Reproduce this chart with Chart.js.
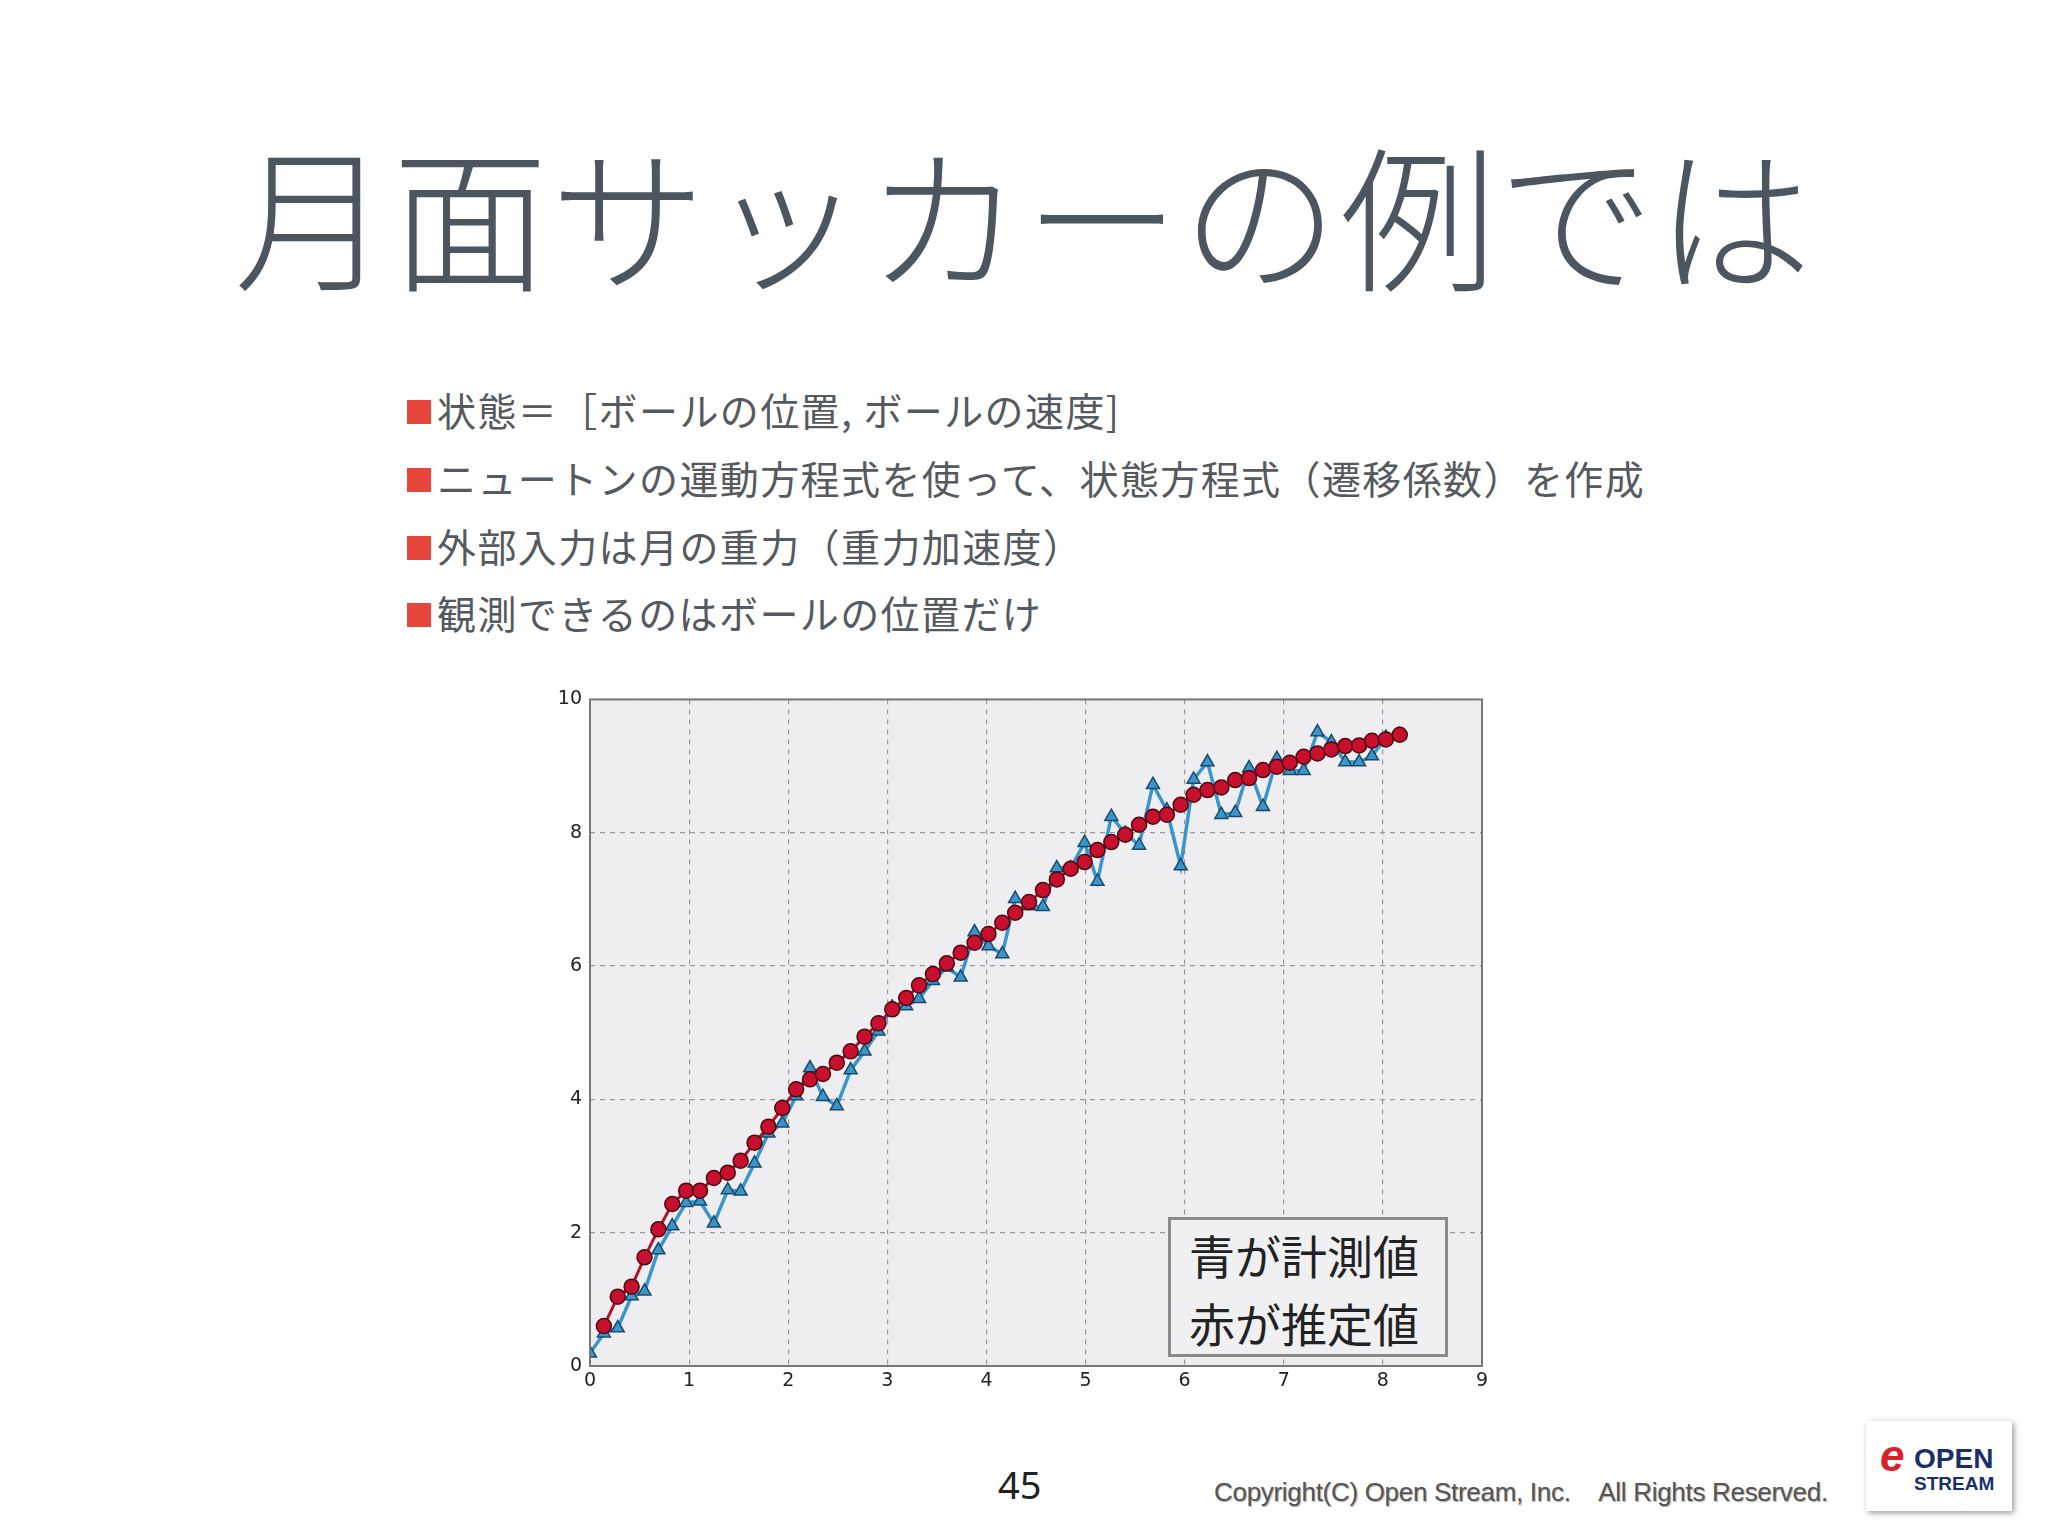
<!DOCTYPE html>
<html><head><meta charset="utf-8">
<script src="https://cdn.jsdelivr.net/npm/chart.js@4/dist/chart.umd.min.js"></script>
<style>
body{margin:0;width:2048px;height:1536px;background:#fff;position:relative;overflow:hidden;font-family:"Noto Sans CJK JP","Noto Sans",sans-serif;}
#title{position:absolute;left:0;width:2048px;top:118px;text-align:center;font-size:156px;color:#4b5661;font-weight:300;letter-spacing:2px;line-height:1.2}
.b{position:absolute;left:407px;font-size:39px;color:#555a60;line-height:1;letter-spacing:1.4px}
.b span{display:inline-block;width:24px;height:24px;background:#e8463a;margin-right:6px;vertical-align:2px}
#wrap{position:absolute;left:540px;top:680px;width:960px;height:720px}
#leg{position:absolute;left:1168px;top:1217px;width:280px;height:140px;border:3px solid #8a8a8a;background:#f0f0f2;font-size:46px;color:#222;line-height:68px;padding-left:18px;box-sizing:border-box;padding-top:0px}
#pg{position:absolute;left:998px;top:1458px;font-size:38px;color:#222;font-family:"Noto Sans",sans-serif}
#cp{position:absolute;left:1214px;top:1477px;font-size:26px;color:#555;font-family:"Liberation Sans",sans-serif;text-shadow:1px 1px 1px #aaa;letter-spacing:-0.3px}
#logo{position:absolute;left:1866px;top:1421px;width:146px;height:90px;background:#fff;box-shadow:2px 2px 6px #999;font-family:"Liberation Sans",sans-serif}
</style></head><body>
<div id="title">月面サッカーの例では</div>
<div class="b" style="top:390px"><span></span>状態＝［ボールの位置, ボールの速度]</div>
<div class="b" style="top:458px"><span></span>ニュートンの運動方程式を使って、状態方程式（遷移係数）を作成</div>
<div class="b" style="top:526px"><span></span>外部入力は月の重力（重力加速度）</div>
<div class="b" style="top:593px"><span></span>観測できるのはボールの位置だけ</div>
<div id="wrap"><canvas id="c"></canvas></div>
<div id="leg">青が計測値<br>赤が推定値</div>
<div id="pg">45</div>
<div id="cp">Copyright(C) Open Stream, Inc.&nbsp;&nbsp;&nbsp;&nbsp;All Rights Reserved.</div>
<div id="logo"><div style="position:absolute;left:14px;top:10px;font-size:44px;color:#d8222a;font-style:italic;font-weight:bold">e</div><div style="position:absolute;left:48px;top:22px;font-size:28px;color:#1a2f6a;font-weight:bold">OPEN</div><div style="position:absolute;left:48px;top:52px;font-size:19px;color:#1a2f6a;font-weight:bold">STREAM</div></div>
<script>
const xs=[0,0.14,0.28,0.42,0.55,0.69,0.83,0.97,1.11,1.25,1.39,1.52,1.66,1.80,1.94,2.08,2.22,2.35,2.49,2.63,2.77,2.91,3.05,3.19,3.32,3.46,3.60,3.74,3.88,4.02,4.16,4.29,4.43,4.57,4.71,4.85,4.99,5.12,5.26,5.40,5.54,5.68,5.82,5.96,6.09,6.23,6.37,6.51,6.65,6.79,6.93,7.06,7.20,7.34,7.48,7.62,7.76,7.89,8.03,8.17];
const measured=[0.19,0.49,0.57,1.05,1.12,1.74,2.10,2.45,2.47,2.14,2.64,2.62,3.04,3.49,3.64,4.05,4.47,4.04,3.90,4.44,4.72,5.02,5.38,5.40,5.51,5.78,5.98,5.83,6.51,6.30,6.18,7.01,6.90,6.89,7.47,7.47,7.85,7.27,8.24,7.99,7.81,8.72,8.34,7.50,8.80,9.06,8.27,8.30,8.97,8.39,9.11,8.93,8.93,9.51,9.36,9.06,9.06,9.15,9.43,9.47];
const estimated=[null,0.60,1.04,1.19,1.63,2.05,2.43,2.63,2.63,2.82,2.90,3.08,3.35,3.59,3.87,4.15,4.30,4.38,4.55,4.72,4.94,5.14,5.35,5.52,5.71,5.88,6.04,6.20,6.35,6.48,6.65,6.80,6.96,7.14,7.30,7.46,7.56,7.74,7.86,7.97,8.12,8.24,8.27,8.42,8.57,8.64,8.68,8.79,8.82,8.94,8.99,9.05,9.14,9.19,9.25,9.30,9.31,9.38,9.40,9.47];
const xTicks=[0,1,2,3,4,5,6,7,8,9];
const yTicks=[0,2,4,6,8,10];
const pts=a=>xs.map((x,i)=>({x:x,y:a[i]}));
const bg={id:'bg',beforeDraw(c){const a=c.chartArea,g=c.ctx;g.save();g.fillStyle='#eeeef0';g.fillRect(a.left,a.top,a.width,a.height);g.restore();},
afterDraw(c){const a=c.chartArea,g=c.ctx;g.save();g.strokeStyle='#777';g.lineWidth=2;g.strokeRect(a.left,a.top,a.width,a.height);g.restore();}};
new Chart(document.getElementById('c'),{type:'scatter',
data:{datasets:[
{label:'推定値',data:pts(estimated),showLine:true,borderColor:'#b5132b',borderWidth:3,pointStyle:'circle',pointRadius:7.5,pointBackgroundColor:'#c8102e',pointBorderColor:'#4a0a10',pointBorderWidth:1.5,order:0,spanGaps:true},
{label:'計測値',data:pts(measured),showLine:true,borderColor:'#3a95cc',borderWidth:3.5,pointStyle:'triangle',pointRadius:7.5,pointBackgroundColor:'#3a95cc',pointBorderColor:'#1b4a6a',pointBorderWidth:1.5,order:1}
]},
options:{responsive:true,maintainAspectRatio:false,animation:false,
layout:{padding:{top:19,right:18,left:0,bottom:0}},
plugins:{legend:{display:false},tooltip:{enabled:false}},
scales:{
x:{type:'linear',min:0,max:9,afterBuildTicks:s=>{s.ticks=xTicks.map(v=>({value:v}));},afterFit:s=>{s.height=34;},
grid:{color:'#999',lineWidth:1.2,tickLength:0,drawTicks:false},border:{dash:[5,5],display:false},
ticks:{color:'#222',font:{size:19,family:'DejaVu Sans'},padding:4}},
y:{min:0,max:10,afterBuildTicks:s=>{s.ticks=yTicks.map(v=>({value:v}));},afterFit:s=>{s.width=50;},
grid:{color:'#999',lineWidth:1.2,drawTicks:false},border:{dash:[5,5],display:false},
ticks:{color:'#222',font:{size:19,family:'DejaVu Sans'},padding:8}}
}},plugins:[bg]});
</script>
</body></html>
